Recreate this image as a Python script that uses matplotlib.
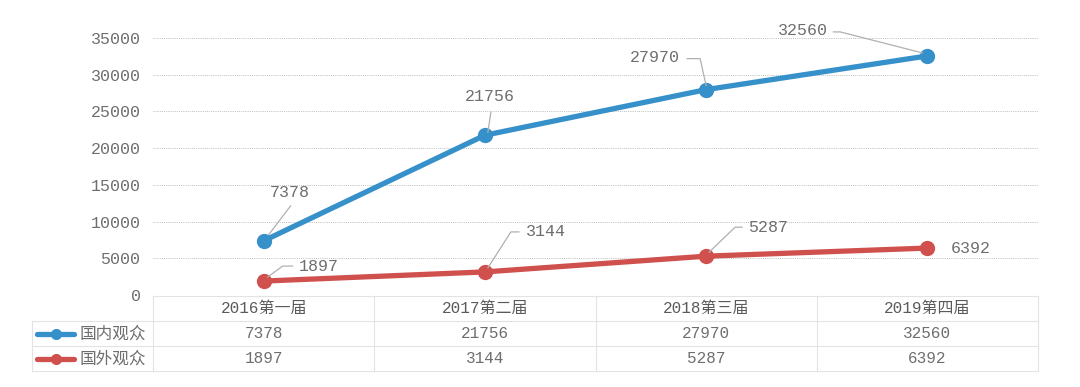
import matplotlib.pyplot as plt
import numpy as np

plt.rcParams['font.family'] = ['Liberation Mono', 'Noto Sans CJK SC']

categories = ['2016第一届', '2017第二届', '2018第三届', '2019第四届']
series_names = ['国内观众', '国外观众']
domestic = [7378, 21756, 27970, 32560]
foreign = [1897, 3144, 5287, 6392]
yticks = [0, 5000, 10000, 15000, 20000, 25000, 30000, 35000]

blue = '#3690C9'
red = '#D0504E'
grey = '#6e6e6e'

W, H = 1080, 387
fig = plt.figure(figsize=(W / 100, H / 100), dpi=100)
ax = fig.add_axes([153 / W, 1 - 295 / H, 885 / W, 257 / H])
ax.set_xlim(-0.5, len(categories) - 0.5)
ax.set_ylim(0, 35000)

x = np.arange(len(categories))
ax.plot(x, domestic, color=blue, lw=3.8, marker='o', ms=10, solid_capstyle='round', zorder=3)
ax.plot(x, foreign, color=red, lw=3.8, marker='o', ms=10, solid_capstyle='round', zorder=3)

ax.set_yticks(yticks)
ax.set_yticklabels([str(t) for t in yticks], color=grey, fontsize=12)
ax.tick_params(axis='y', length=0, pad=9)
ax.set_xticks([])
ax.grid(axis='y', color='#bdbdbd', ls=(0, (1, 1.2)), lw=0.7)
for s in ax.spines.values():
    s.set_visible(False)

# overlay in image pixel coords for leaders and table
ov = fig.add_axes([0, 0, 1, 1], zorder=5)
ov.set_xlim(0, W)
ov.set_ylim(H, 0)
ov.axis('off')
ov.patch.set_alpha(0)


def to_px(xv, yv):
    d = ax.transData.transform((xv, yv))
    return ov.transData.inverted().transform(d)


# leader paths (dx, dy up) and text offset, alignment
labels = [
    (0, domestic[0], [(5, 6), (27, 35)], (26, 48), 'center'),
    (1, domestic[1], [(3, 3), (6, 23)], (5, 39), 'center'),
    (2, domestic[2], [(0, 4), (-6, 31), (-19, 31)], (-26, 32), 'right'),
    (3, domestic[3], [(-5, 3), (-87, 24), (-94, 24)], (-99, 25), 'right'),
    (0, foreign[0], [(4, 4), (19, 15), (29, 15)], (35, 15), 'left'),
    (1, foreign[1], [(3, 4), (26, 40), (34, 40)], (41, 40), 'left'),
    (2, foreign[2], [(3, 4), (29, 29), (36, 29)], (42, 29), 'left'),
    (3, foreign[3], [], (23, 0), 'left'),
]
for xi, v, path, (tx, ty), ha in labels:
    px, py = to_px(xi, v)
    if path:
        xs = [px + dx for dx, dy in path]
        ys = [py - dy for dx, dy in path]
        ov.plot(xs, ys, color='#b0b0b0', lw=0.9)
    ov.text(px + tx, py - ty, str(v), ha=ha, va='center', color=grey, fontsize=12)

# table
cols = [153 + 221.25 * i for i in range(5)]
rows = [296, 321, 346, 371]
lc = '#e3e3e3'
ov.plot([153, 1038], [rows[0], rows[0]], color=lc, lw=0.8)
for r in rows[1:]:
    ov.plot([32, 1038], [r, r], color=lc, lw=0.8)
ov.plot([32, 32], [rows[1], rows[3]], color=lc, lw=0.8)
for c in cols:
    ov.plot([c, c], [rows[0], rows[3]], color=lc, lw=0.8)

for i, cat in enumerate(categories):
    cx = (cols[i] + cols[i + 1]) / 2
    ov.text(cx, 308.5, cat, ha='center', va='center', color='#5a5a5a', fontsize=11.5)
    ov.text(cx, 333.5, str(domestic[i]), ha='center', va='center', color=grey, fontsize=11.5)
    ov.text(cx, 358.5, str(foreign[i]), ha='center', va='center', color=grey, fontsize=11.5)

for name, col, ry in zip(series_names, [blue, red], [333.5, 358.5]):
    ov.plot([37, 74], [ry, ry], color=col, lw=3.8, solid_capstyle='round')
    ov.plot([56], [ry], marker='o', color=col, ms=7)
    ov.text(80, ry, name, ha='left', va='center', color=grey, fontsize=12)

fig.savefig('out.png', dpi=100)
